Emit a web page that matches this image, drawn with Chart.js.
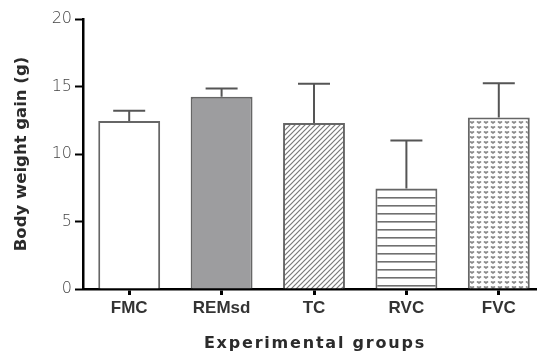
<!DOCTYPE html>
<html>
<head>
<meta charset="utf-8">
<script src="https://cdn.jsdelivr.net/npm/chart.js@4/dist/chart.umd.min.js"></script>
<style>
  html, body { margin: 0; padding: 0; background: #fff; overflow: hidden; }
  #wrap { width: 545px; height: 355px; }
</style>
</head>
<body>
<div id="wrap"><canvas id="c" width="545" height="355"></canvas></div>
<script>
// Body weight gain per experimental group (mean and SEM, grams)
const groups = ['FMC', 'REMsd', 'TC', 'RVC', 'FVC'];
const meanGain = [12.45, 14.25, 12.3, 7.45, 12.7];
const semGain = [0.75, 0.6, 2.9, 3.55, 2.55];
const yTicks = [0, 5, 10, 15, 20];
const yTitle = 'Body weight gain (g)';
const xTitle = 'Experimental groups';

// Fill patterns for the bars
function makeTile(w, h, draw) {
  const c = document.createElement('canvas');
  c.width = w; c.height = h;
  const g = c.getContext('2d');
  g.fillStyle = '#fff';
  g.fillRect(0, 0, w, h);
  draw(g, w, h);
  return document.getElementById('c').getContext('2d').createPattern(c, 'repeat');
}
const hatch = makeTile(5, 5, (g, w, h) => {
  g.strokeStyle = '#7a7a7a';
  g.lineWidth = 1.2;
  g.beginPath();
  g.moveTo(-1, h + 1); g.lineTo(w + 1, -1);
  g.moveTo(-1, 1); g.lineTo(1, -1);
  g.moveTo(w - 1, h + 1); g.lineTo(w + 1, h - 1);
  g.stroke();
});
const stripes = makeTile(8, 8, (g, w) => {
  g.fillStyle = '#707070';
  g.fillRect(0, 5, w, 1.6);
});
const hearts = makeTile(7, 5, (g) => {
  g.fillStyle = '#8a8a8a';
  g.beginPath();
  g.moveTo(1, 1);
  g.lineTo(3, 1.6);
  g.lineTo(5, 1);
  g.lineTo(5.4, 2.2);
  g.lineTo(3, 4);
  g.lineTo(0.6, 2.2);
  g.closePath();
  g.fill();
});

const errorBars = {
  id: 'errorBars',
  afterDatasetsDraw(chart) {
    const ctx = chart.ctx;
    const meta = chart.getDatasetMeta(0);
    const ys = chart.scales.y;
    ctx.save();
    ctx.strokeStyle = '#555';
    ctx.lineWidth = 2;
    meta.data.forEach((bar, i) => {
      const yTop = ys.getPixelForValue(meanGain[i] + semGain[i]);
      const yMean = ys.getPixelForValue(meanGain[i]);
      ctx.beginPath();
      ctx.moveTo(bar.x, yMean);
      ctx.lineTo(bar.x, yTop);
      ctx.moveTo(bar.x - 16, yTop);
      ctx.lineTo(bar.x + 16, yTop);
      ctx.stroke();
    });
    ctx.restore();
  }
};

const axisTitles = {
  id: 'axisTitles',
  afterDraw(chart) {
    const ctx = chart.ctx;
    const a = chart.chartArea;
    ctx.save();
    ctx.fillStyle = '#2b2b2b';
    ctx.font = 'bold 16.5px "DejaVu Sans"';
    ctx.textAlign = 'center';
    ctx.textBaseline = 'alphabetic';
    ctx.translate(26, (a.top + a.bottom) / 2);
    ctx.rotate(-Math.PI / 2);
    ctx.fillText(yTitle, 0, 0);
    ctx.restore();

    ctx.save();
    ctx.fillStyle = '#2b2b2b';
    ctx.font = 'bold 16px "DejaVu Sans"';
    ctx.letterSpacing = '1.8px';
    ctx.textAlign = 'center';
    ctx.textBaseline = 'alphabetic';
    ctx.fillText(xTitle, (a.left + a.right) / 2 + 1, 348);
    ctx.restore();
  }
};

new Chart(document.getElementById('c'), {
  type: 'bar',
  data: {
    labels: groups,
    datasets: [{
      data: meanGain,
      backgroundColor: ['#ffffff', '#9d9d9f', hatch, stripes, hearts],
      borderColor: '#666',
      borderWidth: 2,
      barPercentage: 0.67,
      categoryPercentage: 1
    }]
  },
  options: {
    responsive: false,
    animation: false,
    devicePixelRatio: 1,
    layout: { padding: { top: 19, left: 0, right: 0, bottom: 0 } },
    plugins: { legend: { display: false }, tooltip: { enabled: false } },
    scales: {
      x: {
        grid: { drawOnChartArea: false, offset: false, tickLength: 6, tickWidth: 3, tickColor: '#000' },
        border: { color: '#000', width: 2.5 },
        ticks: { color: '#333', padding: 3, font: { family: '"Liberation Sans"', size: 17, weight: 'bold' } },
        afterFit(s) { s.height = 66; }
      },
      y: {
        min: 0,
        max: 20,
        afterBuildTicks(s) { s.ticks = yTicks.map(v => ({ value: v })); },
        grid: { drawOnChartArea: false, tickLength: 8, tickWidth: 2, tickColor: '#000' },
        border: { color: '#000', width: 2.5 },
        ticks: { color: '#444', padding: 3, font: { family: '"DejaVu Sans"', size: 16, weight: 200 } },
        afterFit(s) { s.width = 83; }
      }
    }
  },
  plugins: [errorBars, axisTitles]
});
</script>
</body>
</html>
